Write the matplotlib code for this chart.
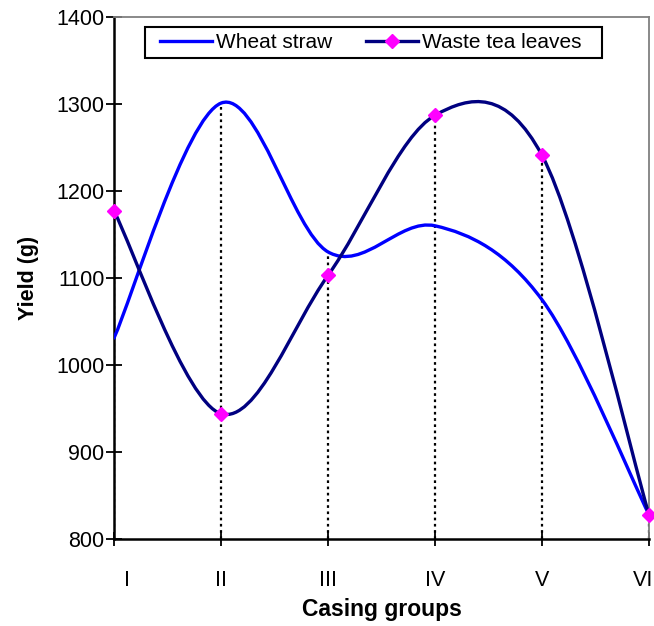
import matplotlib
matplotlib.use("Agg")
import matplotlib.pyplot as plt
from matplotlib.path import Path
from matplotlib.patches import PathPatch, Rectangle
from matplotlib.lines import Line2D
from matplotlib.transforms import ScaledTranslation, blended_transform_factory
import numpy as np

categories = ["I", "II", "III", "IV", "V", "VI"]
wheat_straw = [1031, 1301, 1130, 1160, 1075, 828]
waste_tea = [1177, 944, 1103, 1287, 1241, 828]

plt.rcParams['font.family'] = ['Liberation Sans', 'DejaVu Sans']

W, H = 654, 626
fig = plt.figure(figsize=(W/100, H/100), dpi=100)
ax = fig.add_axes([114/W, 1-539/H, (649-114)/W, (539-17)/H])

x = np.arange(len(categories), dtype=float)


def smooth_path(xs, ys):
    pts = np.column_stack([xs, ys])
    n = len(pts)
    verts = [pts[0]]
    codes = [Path.MOVETO]
    for i in range(n - 1):
        p0 = pts[i - 1] if i > 0 else pts[i]
        p1 = pts[i]
        p2 = pts[i + 1]
        p3 = pts[i + 2] if i + 2 < n else pts[i + 1]
        c1 = p1 + (p2 - p0) / 6.0
        c2 = p2 - (p3 - p1) / 6.0
        verts += [c1, c2, p2]
        codes += [Path.CURVE4] * 3
    return Path(verts, codes)


# drop lines
tops = np.maximum(wheat_straw, waste_tea)
ax.vlines(x, 800, tops, colors='black', linestyles=(0, (1.2, 1.6)), linewidth=1.6, zorder=1)

ax.add_patch(PathPatch(smooth_path(x, wheat_straw), facecolor='none', edgecolor='#0000FF',
                       linewidth=2.4, capstyle='round', joinstyle='round', zorder=3))
ax.add_patch(PathPatch(smooth_path(x, waste_tea), facecolor='none', edgecolor='#000080',
                       linewidth=2.4, capstyle='round', joinstyle='round', zorder=3))
ax.plot(x, waste_tea, linestyle='none', marker='D', markersize=7.5, color='#FF00FF',
        markeredgecolor='#FF00FF', zorder=4, clip_on=False)

ax.set_xlim(0, 5)
ax.set_ylim(800, 1400)
ax.set_yticks([800, 900, 1000, 1100, 1200, 1300, 1400])
ax.set_xticks(x)
ax.set_xticklabels([""] + categories[1:-1] + [""])

ax.tick_params(axis='y', direction='inout', length=12, width=1.3, labelsize=15.5, pad=1)
ax.tick_params(axis='x', direction='inout', length=10, width=1.3, labelsize=15.5, pad=17.5)

for side in ['left', 'bottom']:
    ax.spines[side].set_color('black')
    ax.spines[side].set_linewidth(1.8)
for side in ['top', 'right']:
    ax.spines[side].set_color('#808080')
    ax.spines[side].set_linewidth(1.3)

ax.set_xlabel("Casing groups", fontsize=16.5, fontweight='bold', labelpad=5)
ax.set_ylabel("Yield (g)", fontsize=15.5, fontweight='bold', labelpad=12)

fig.canvas.draw()
lab = ax.get_xticklabels()[1]
bb = lab.get_window_extent()
ytop = ax.transAxes.inverted().transform((0, bb.y1))[1]
# first label offset to the right, last label kept inside the figure edge
t_first = blended_transform_factory(ax.transData, ax.transAxes) + ScaledTranslation(13/100, 0, fig.dpi_scale_trans)
ax.text(0, ytop, categories[0], transform=t_first, ha='center', va='top', fontsize=15.5)
t_last = blended_transform_factory(ax.transData, ax.transAxes) + ScaledTranslation(4/100, 0, fig.dpi_scale_trans)
ax.text(5, ytop, categories[-1], transform=t_last, ha='right', va='top', fontsize=15.5)

handles = [
    Line2D([], [], color='#0000FF', linewidth=2.4),
    Line2D([], [], color='#000080', linewidth=2.4, marker='D', markersize=7.5,
           markerfacecolor='#FF00FF', markeredgecolor='#FF00FF'),
]
cx = ((145 + 602) / 2 - 2.5) / W
cy = 1 - 42.5 / H
leg = fig.legend(handles, ["Wheat straw", "Waste tea leaves"], loc='center',
                 bbox_to_anchor=(cx, cy), bbox_transform=fig.transFigure, ncol=2, fontsize=15,
                 frameon=False, handlelength=2.5, handletextpad=0.2, columnspacing=1.6,
                 borderpad=0.0, borderaxespad=0.0)
fig.canvas.draw()
lb = leg.get_window_extent()
x0 = lb.x0 - 15
x1 = lb.x1 + 20
y0 = lb.y0 - 6
y1 = lb.y1 + 6
fig.patches.append(Rectangle((x0, y0), x1 - x0, y1 - y0, transform=None, fill=True,
                             facecolor='white', edgecolor='black', linewidth=1.5, zorder=5))
leg.set_zorder(6)

fig.savefig("out.png", dpi=100)
